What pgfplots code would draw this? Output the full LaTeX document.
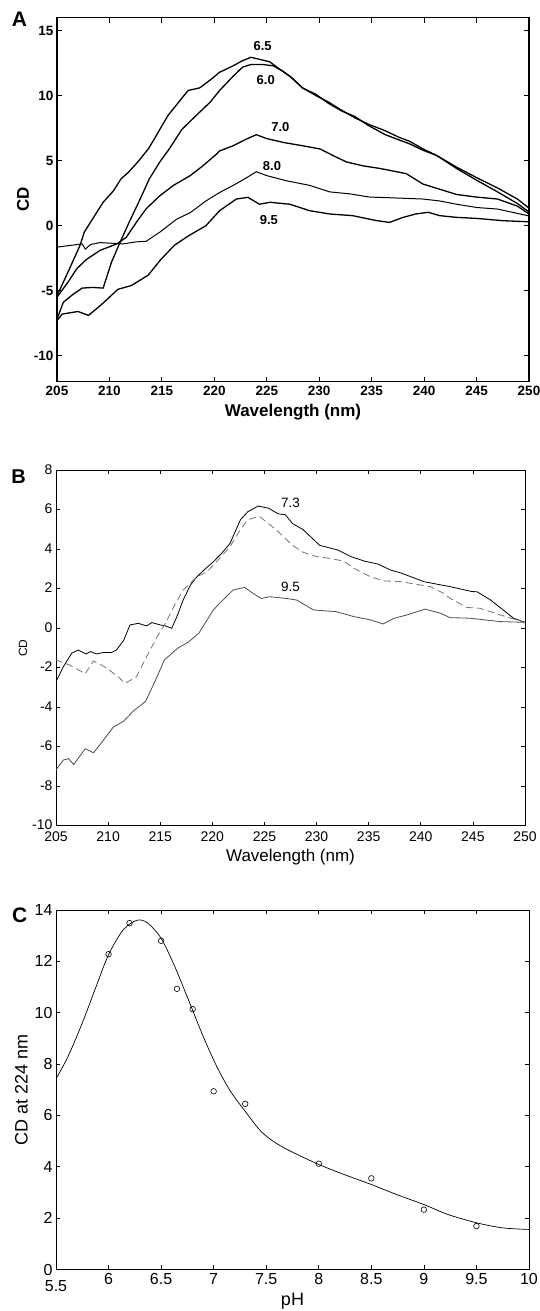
\documentclass[border=0pt]{standalone}
\usepackage{pgfplots}
\pgfplotsset{compat=1.18}
\usepackage{fontspec}
\setmainfont{Liberation Sans}

\pgfplotstableread{
x y
205 -5.4
206.2 -3.3
207.2 -1.5
207.6 -0.5
208.3 0.4
209.4 1.8
210.4 2.7
211.1 3.6
211.8 4.1
212.7 4.9
213.7 5.9
214.3 6.7
214.8 7.4
215.6 8.5
216.5 9.4
217.5 10.4
218.6 10.6
219.6 11.2
220.5 11.8
221.8 12.3
222.7 12.7
223.5 12.95
224.3 12.8
225.3 12.6
226.2 12.05
227.2 11.5
228.4 10.6
229.7 10.0
230.9 9.5
232.2 8.85
233.4 8.3
234.7 7.8
236.3 7.3
237.6 6.8
238.6 6.5
239.9 5.9
241.2 5.4
243.1 4.5
245.0 3.7
247.0 2.9
248.9 2.05
250 1.35
}\Asixfive

\pgfplotstableread{
x y
205 -7.2
205.6 -5.9
206.5 -5.3
207.4 -4.8
208.4 -4.75
209.4 -4.8
210.2 -2.8
211.0 -1.3
211.9 0.3
212.9 2.0
213.8 3.6
214.8 4.9
215.7 5.9
216.9 7.4
218.3 8.5
219.6 9.5
220.5 10.4
221.8 11.5
222.7 12.2
223.5 12.4
224.6 12.4
225.6 12.3
226.5 11.9
227.5 11.3
228.4 10.6
229.7 10.1
230.9 9.4
232.2 8.8
233.4 8.4
234.7 7.7
236.3 7.0
237.6 6.6
238.6 6.3
239.9 5.8
241.2 5.4
243.1 4.4
245.0 3.5
247.0 2.6
248.9 1.7
250 1.05
}\Asix

\pgfplotstableread{
x y
205 -5.5
206.0 -4.4
206.9 -3.3
207.8 -2.6
209.1 -1.9
210.7 -1.4
211.6 -0.9
212.6 0.3
213.5 1.3
214.8 2.3
216.1 3.1
217.7 3.85
218.9 4.6
220.2 5.5
220.5 5.75
221.8 6.15
222.9 6.6
224.0 7.0
225.0 6.7
226.6 6.4
228.4 6.15
230.1 5.9
231.3 5.4
232.6 4.9
234.2 4.6
235.8 4.4
237.7 4.1
238.3 4.0
239.9 3.2
241.5 2.8
243.1 2.4
245.0 2.2
247.0 2.05
248.9 1.5
250 0.9
}\Aseven

\pgfplotstableread{
x y
205 -1.65
207.4 -1.4
207.7 -1.8
208.2 -1.45
209.1 -1.3
211.3 -1.4
212.5 -1.25
213.5 -1.2
214.8 -0.5
216.4 0.5
217.7 1.0
219.2 1.9
220.5 2.55
221.8 3.1
223.1 3.7
224.0 4.15
225.0 3.85
226.9 3.45
229.1 3.1
231.0 2.6
232.9 2.45
234.8 2.2
236.7 2.15
239.9 2.05
241.5 1.9
243.1 1.65
245.0 1.4
247.0 1.28
250 0.75
}\Aeight

\pgfplotstableread{
x y
205 -7.3
205.5 -6.8
207 -6.6
208 -6.9
209.2 -6.1
210.8 -4.9
212.1 -4.6
213.7 -3.8
214.9 -2.6
216.2 -1.5
217.5 -0.8
219.2 0.0
220.5 1.15
222.1 2.05
223.2 2.18
224.3 1.65
225.3 1.8
227.2 1.65
229.1 1.15
231.0 0.9
233.2 0.77
235.4 0.4
236.7 0.25
238.0 0.64
239.2 0.9
240.4 1.03
241.5 0.77
243.1 0.64
245.0 0.56
247.6 0.38
250 0.3
}\Aninefive

\pgfplotstableread{
x y
205 -2.7
205.7 -1.95
206.5 -1.27
207.1 -1.1
207.9 -1.3
208.3 -1.18
208.9 -1.3
209.5 -1.23
210.3 -1.23
210.8 -1.1
211.5 -0.6
212.1 0.17
212.9 0.25
213.7 0.12
214.2 0.29
215.0 0.17
215.5 0.12
216.1 0.0
216.6 0.59
217.2 1.43
217.9 2.19
218.5 2.6
219.3 3.0
220.1 3.37
220.9 3.8
221.7 4.3
222.7 5.5
223.4 5.9
224.4 6.19
225.4 6.08
226.3 5.8
227.0 5.75
227.7 5.3
228.7 5.0
230.3 4.2
232.0 3.97
233.3 3.63
234.6 3.4
235.9 3.25
237.1 2.95
238.1 2.8
240.3 2.36
242.8 2.11
244.9 1.86
245.4 1.85
246.7 1.43
247.9 0.93
248.9 0.51
250 0.3
}\Bsolid

\pgfplotstableread{
x y
205 -1.6
206.3 -1.86
207.8 -2.3
208.6 -1.65
209.7 -1.96
211.0 -2.46
211.6 -2.8
212.7 -2.46
213.7 -1.44
214.7 -0.43
215.5 0.25
216.3 1.09
217.2 1.94
218.5 2.6
219.5 2.87
220.4 3.37
221.7 4.13
222.7 5.0
223.4 5.5
224.5 5.67
225.4 5.3
226.3 4.9
227.7 4.2
228.7 3.85
230.0 3.63
231.3 3.54
232.6 3.4
233.6 3.03
235.2 2.6
236.5 2.4
238.1 2.36
239.0 2.28
240.9 2.11
242.2 1.77
242.8 1.52
244.4 1.06
245.7 1.01
247.6 0.68
250 0.3
}\Bdashed

\pgfplotstableread{
x y
205 -7.17
205.7 -6.67
206.2 -6.6
206.7 -6.9
207.8 -6.1
208.6 -6.3
209.5 -5.7
210.5 -5.0
211.5 -4.7
212.4 -4.2
213.6 -3.7
214.4 -2.8
215.4 -1.6
216.7 -1.0
217.7 -0.7
218.7 -0.25
220.1 0.93
220.7 1.27
222.0 1.94
223.1 2.07
223.9 1.77
224.7 1.51
225.5 1.6
227.1 1.51
228.1 1.43
229.7 0.93
231.9 0.84
233.6 0.59
235.2 0.42
236.4 0.22
237.4 0.5
238.7 0.68
240.4 0.97
241.9 0.76
242.8 0.54
244.7 0.51
247.6 0.34
250 0.3
}\Bninefive

\pgfplotstableread{
x y
6.0 12.28
6.2 13.49
6.5 12.8
6.65 10.93
6.8 10.14
7.0 6.94
7.3 6.45
8.0 4.12
8.5 3.55
9.0 2.33
9.5 1.69
}\Cpoints

\pgfplotstableread{
x y
5.5 7.42
5.615 8.3
5.75 9.6
5.88 11.0
6.0 12.26
6.14 13.23
6.27 13.6
6.37 13.5
6.5 12.9
6.63 11.8
6.76 10.5
6.9 9.08
7.03 7.9
7.16 6.94
7.3 6.16
7.45 5.38
7.59 4.93
7.75 4.57
8.0 4.09
8.24 3.7
8.5 3.31
8.74 2.92
9.0 2.53
9.23 2.14
9.5 1.82
9.75 1.62
10 1.56
}\Cfit

\begin{document}
\begin{tikzpicture}[x=1pt,y=1pt]
\path[use as bounding box] (0,0) rectangle (540,1311);

% ---------------- Panel A ----------------
\begin{axis}[
  at={(57pt,929.3pt)}, anchor=south west,
  scale only axis, width=472pt, height=364pt,
  xmin=205, xmax=250, ymin=-12, ymax=16,
  xtick={205,210,...,250}, ytick={-10,-5,0,5,10,15},
  tick align=inside, major tick length=5pt,
  axis line style={line width=1.6pt},
  tick style={line width=1.2pt, black},
  /pgf/number format/assume math mode=true,
  tick label style={font=\fontsize{13.5}{13.5}\selectfont\bfseries},
  xticklabel style={yshift=-1pt},
  xlabel={Wavelength (nm)}, ylabel={CD},
  label style={font=\fontsize{17}{17}\selectfont\bfseries},
  xlabel style={yshift=-2pt},
  ylabel style={yshift=-2pt},
]
\addplot[black, line width=1.3pt] table {\Asixfive};
\addplot[black, line width=1.3pt] table {\Asix};
\addplot[black, line width=1.3pt] table {\Aseven};
\addplot[black, line width=1.0pt] table {\Aeight};
\addplot[black, line width=1.3pt] table {\Aninefive};
\node[font=\fontsize{13}{13}\selectfont\bfseries] at (axis cs:224.6,13.8) {6.5};
\node[font=\fontsize{13}{13}\selectfont\bfseries] at (axis cs:224.9,11.2) {6.0};
\node[font=\fontsize{13}{13}\selectfont\bfseries] at (axis cs:226.3,7.6) {7.0};
\node[font=\fontsize{13}{13}\selectfont\bfseries] at (axis cs:225.5,4.6) {8.0};
\node[font=\fontsize{13}{13}\selectfont\bfseries] at (axis cs:225.2,0.45) {9.5};
\end{axis}

% ---------------- Panel B ----------------
\begin{axis}[
  at={(56pt,485.2pt)}, anchor=south west,
  scale only axis, width=469pt, height=355.5pt,
  xmin=205, xmax=250, ymin=-10, ymax=8,
  xtick={205,210,...,250}, ytick={-10,-8,...,8},
  tick align=inside, major tick length=4pt,
  axis line style={line width=0.9pt},
  tick style={line width=0.7pt, black},
  /pgf/number format/assume math mode=true,
  tick label style={font=\fontsize{14}{14}\selectfont},
  xticklabel style={yshift=-2.5pt},
  yticklabel style={yshift=1pt},
  xlabel={Wavelength (nm)}, ylabel={CD},
  xlabel style={font=\fontsize{17}{17}\selectfont, yshift=-1pt},
  ylabel style={font=\fontsize{12}{12}\selectfont, yshift=-2pt},
]
\addplot[black, line width=0.8pt] table {\Bsolid};
\addplot[black!55, line width=0.8pt, dash pattern=on 7pt off 4pt] table {\Bdashed};
\addplot[black!70, line width=0.8pt] table {\Bninefive};
\node[font=\fontsize{13.5}{13.5}\selectfont] at (axis cs:227.5,6.35) {7.3};
\node[font=\fontsize{13.5}{13.5}\selectfont] at (axis cs:227.5,2.1) {9.5};
\end{axis}

% ---------------- Panel C ----------------
\begin{axis}[
  at={(56pt,41.5pt)}, anchor=south west,
  scale only axis, width=473pt, height=359.5pt,
  xmin=5.5, xmax=10, ymin=0, ymax=14,
  xtick={6,6.5,...,10}, ytick={0,2,...,14},
  extra x ticks={5.5},
  extra x tick style={tick label style={yshift=-7pt}},
  tick align=inside, major tick length=4pt,
  axis line style={line width=0.9pt},
  tick style={line width=0.7pt, black},
  /pgf/number format/assume math mode=true,
  tick label style={font=\fontsize{16}{16}\selectfont},
  xticklabel style={/pgf/number format/.cd, fixed, precision=1},
  xlabel={pH}, ylabel={CD at 224 nm},
  label style={font=\fontsize{18}{18}\selectfont},
  xlabel style={yshift=5pt},
]
\addplot[black, line width=0.7pt, smooth] table {\Cfit};
\addplot[only marks, mark=o, mark size=2.8pt, mark options={black, line width=0.6pt}] table {\Cpoints};
\end{axis}

% panel letters
\node[font=\fontsize{21}{21}\selectfont\bfseries] at (19.5,1291.5) {A};
\node[font=\fontsize{20}{20}\selectfont\bfseries] at (18.5,834.5) {B};
\node[font=\fontsize{21}{21}\selectfont\bfseries] at (19.7,395.7) {C};
\end{tikzpicture}
\end{document}
